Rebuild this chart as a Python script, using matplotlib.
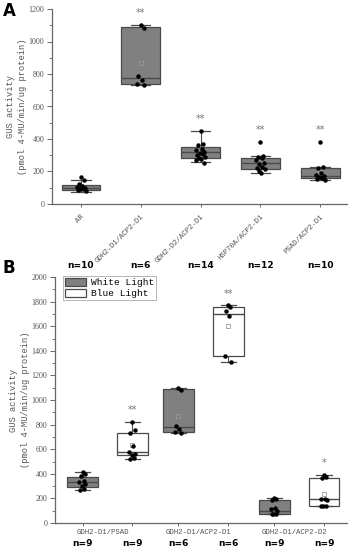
import numpy as np
import matplotlib
matplotlib.use("Agg")
import matplotlib.pyplot as plt
from matplotlib.patches import Patch

# ---------------- data : panel A ----------------
a_categories = ["AR", "GDH2-D1/ACP2-D1", "GDH2-D2/ACP2-D1", "HSP70A/ACP2-D1", "PSAD/ACP2-D1"]
a_points = [
    [165, 145, 120, 110, 105, 100, 95, 90, 85, 78],
    [1100, 1085, 790, 765, 740, 730],
    [450, 370, 360, 340, 330, 320, 315, 310, 300, 290, 280, 275, 270, 255],
    [381, 297, 290, 280, 270, 255, 245, 230, 220, 215, 205, 191],
    [381, 225, 220, 190, 180, 170, 165, 160, 155, 148],
]
a_q1 = [86, 738, 281, 217, 158]
a_med = [100, 777, 322, 254, 170]
a_q3 = [117, 1087, 349, 281, 219]
a_whislo = [76, 730, 257, 191, 148]
a_whishi = [146, 1101, 451, 297, 225]
a_stars = ["", "**", "**", "**", "**"]
a_n = ["n=10", "n=6", "n=14", "n=12", "n=10"]

# ---------------- data : panel B ----------------
b_groups = ["GDH2-D1/PSAD", "GDH2-D1/ACP2-D1", "GDH2-D1/ACP2-D2"]
b_series = ["White Light", "Blue Light"]
b_white_points = [
    [415, 400, 380, 340, 330, 320, 300, 280, 270],
    [1100, 1085, 790, 765, 740, 730],
    [200, 195, 190, 120, 110, 100, 75, 72, 70],
]
b_blue_points = [
    [820, 760, 730, 630, 580, 560, 550, 530, 520],
    [1770, 1760, 1725, 1680, 1360, 1310],
    [390, 375, 365, 195, 192, 190, 140, 138, 138],
]
b_white_q1 = [290, 738, 73]
b_white_med = [331, 777, 100]
b_white_q3 = [376, 1087, 187]
b_white_whislo = [268, 730, 70]
b_white_whishi = [415, 1101, 201]
b_blue_q1 = [553, 1358, 138]
b_blue_med = [580, 1702, 192]
b_blue_q3 = [732, 1759, 363]
b_blue_whislo = [518, 1312, 138]
b_blue_whishi = [819, 1770, 392]
b_white_stars = ["", "", ""]
b_blue_stars = ["**", "**", "*"]
b_white_n = ["n=9", "n=6", "n=9"]
b_blue_n = ["n=9", "n=6", "n=9"]

# ---------------- style ----------------
W, H = 354, 550
fig = plt.figure(figsize=(W / 100, H / 100), dpi=100)
MONO = "Liberation Mono"
SERIF = "Liberation Serif"
GRAY_FILL = "#808080"
EDGE = "#4a4a4a"
AXC = "#666666"
TXT = "#555555"


def style_axes(ax, ymax, major, minor):
    for s in ["top", "right"]:
        ax.spines[s].set_visible(False)
    for s in ["left", "bottom"]:
        ax.spines[s].set_color(AXC)
        ax.spines[s].set_linewidth(0.9)
    ax.set_ylim(0, ymax)
    ax.set_yticks(np.arange(0, ymax + 1, major))
    ax.set_yticks(np.arange(0, ymax + 1, minor), minor=True)
    ax.tick_params(axis="y", which="major", length=3.5, width=0.7, color=AXC,
                   labelsize=5.8, labelcolor=TXT, direction="out", pad=2)
    ax.tick_params(axis="y", which="minor", length=2, width=0.6, color=AXC, direction="out")
    ax.tick_params(axis="x", which="major", length=2.5, width=0.7, color=AXC, direction="out")
    for lab in ax.get_yticklabels():
        lab.set_fontfamily(SERIF)
    ax.set_ylabel("GUS activity\n(pmol 4-MU/min/ug protein)", fontsize=6.3,
                  family=MONO, color=TXT, linespacing=1.3, labelpad=1.5)


def jitter(n, spread):
    pattern = np.array([0.0, 0.6, -0.5, 0.3, -0.9, 0.8, -0.2, 0.45, -0.7, 1.0, -0.35, 0.15, -1.0, 0.7])
    return pattern[:n] * spread


def draw_box(ax, pos, width, q1, med, q3, lo, hi, pts, face):
    stats = [dict(q1=q1, med=med, q3=q3, whislo=lo, whishi=hi,
                  mean=float(np.mean(pts)), fliers=[])]
    ax.bxp(stats, positions=[pos], widths=width, patch_artist=True, showmeans=True,
           showfliers=False, manage_ticks=False,
           boxprops=dict(facecolor=face, edgecolor=EDGE, linewidth=0.9),
           medianprops=dict(color=EDGE, linewidth=1.0),
           whiskerprops=dict(color=EDGE, linewidth=0.8),
           capprops=dict(color=EDGE, linewidth=0.9),
           capwidths=width * 0.5,
           meanprops=dict(marker="s", markersize=2.6, markerfacecolor="none",
                          markeredgecolor="#999999", markeredgewidth=0.6))
    xs = pos + jitter(len(pts), width * 0.12)
    ax.plot(xs, pts, "o", color="black", markersize=2.2, zorder=5)


# ---------------- panel A ----------------
axA = fig.add_axes([52 / W, 1 - 204 / H, (347 - 52) / W, 195 / H])
style_axes(axA, 1200, 200, 100)
posA = np.arange(1, len(a_categories) + 1)
for i, p in enumerate(posA):
    draw_box(axA, p, 0.65, a_q1[i], a_med[i], a_q3[i], a_whislo[i], a_whishi[i],
             a_points[i], GRAY_FILL)
    if a_stars[i]:
        axA.text(p, max(a_points[i]) + 45, a_stars[i], ha="center", va="bottom",
                 fontsize=7, color="#777777", family="DejaVu Sans")
    axA.text(p, -0.313, a_n[i], transform=axA.get_xaxis_transform(), ha="center",
             va="center", fontsize=6.5, fontweight="bold", family="DejaVu Sans")
axA.set_xlim(0.515, 5.45)
axA.set_xticks(posA)
axA.set_xticklabels(a_categories, rotation=45, ha="right", rotation_mode="anchor",
                    fontsize=5.3, family=MONO, color=TXT)
axA.tick_params(axis="x", pad=4)
fig.text(3 / W, 1 - 11 / H, "A", fontsize=12, fontweight="bold", va="center", ha="left")

# ---------------- panel B ----------------
axB = fig.add_axes([55 / W, 1 - 523 / H, (347 - 55) / W, 246 / H])
style_axes(axB, 2000, 200, 100)
gpos = np.arange(1, len(b_groups) + 1)
off = 0.26
xt = []
for i, g in enumerate(gpos):
    draw_box(axB, g - off, 0.32, b_white_q1[i], b_white_med[i], b_white_q3[i],
             b_white_whislo[i], b_white_whishi[i], b_white_points[i], GRAY_FILL)
    draw_box(axB, g + off, 0.32, b_blue_q1[i], b_blue_med[i], b_blue_q3[i],
             b_blue_whislo[i], b_blue_whishi[i], b_blue_points[i], "white")
    for x, st, pts in [(g - off, b_white_stars[i], b_white_points[i]),
                       (g + off, b_blue_stars[i], b_blue_points[i])]:
        if st:
            axB.text(x, max(pts) + 55, st, ha="center", va="bottom", fontsize=7,
                     color="#777777", family="DejaVu Sans")
    axB.text(g - 0.05, -0.04, b_groups[i], transform=axB.get_xaxis_transform(),
             ha="center", va="center", fontsize=5.3, family=MONO, color=TXT)
    axB.text(g - off, -0.085, b_white_n[i], transform=axB.get_xaxis_transform(),
             ha="center", va="center", fontsize=6.5, fontweight="bold", family="DejaVu Sans")
    axB.text(g + off, -0.085, b_blue_n[i], transform=axB.get_xaxis_transform(),
             ha="center", va="center", fontsize=6.5, fontweight="bold", family="DejaVu Sans")
    xt += [g - off, g + off]
axB.set_xlim(0.453, 3.5)
axB.set_xticks(xt)
axB.set_xticklabels([])
handles = [Patch(facecolor=GRAY_FILL, edgecolor=EDGE, linewidth=0.9),
           Patch(facecolor="white", edgecolor=EDGE, linewidth=0.9)]
leg = axB.legend(handles, b_series, loc="upper left", bbox_to_anchor=(0.027, 1.005),
                 borderaxespad=0, fancybox=False, prop=dict(family=MONO, size=6.8),
                 handlelength=2.3, handleheight=1.0, handletextpad=0.5,
                 borderpad=0.2, labelspacing=0.15, framealpha=1)
leg.get_frame().set_edgecolor("#aaaaaa")
leg.get_frame().set_linewidth(0.6)
fig.text(3 / W, 1 - 268 / H, "B", fontsize=12, fontweight="bold", va="center", ha="left")

fig.savefig("out.png", dpi=100)
